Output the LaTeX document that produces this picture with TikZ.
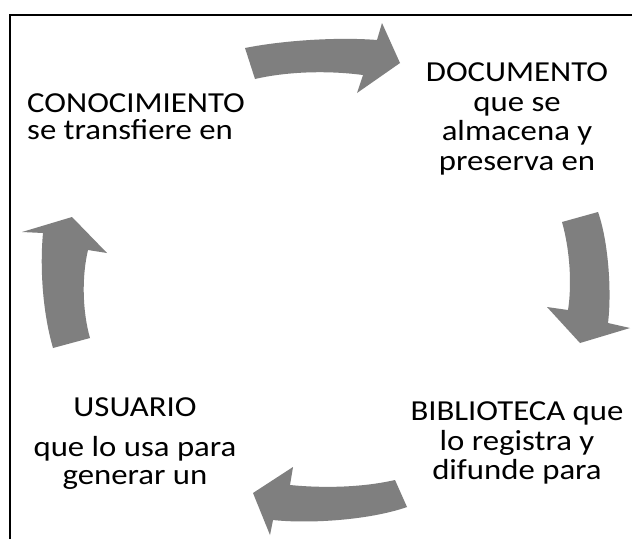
\documentclass[tikz,border=0pt]{standalone}
\usepackage{fontspec}
\setmainfont{Carlito}[FakeStretch=1.13]
\begin{document}
\begin{tikzpicture}[x=1pt,y=-1pt,
  cyclearrow/.style={fill=arrowgray,draw=none},
  label/.style={inner sep=0pt,font=\fontsize{29}{29.5}\selectfont}]
\definecolor{arrowgray}{RGB}{127,127,127}
\useasboundingbox (0,0) rectangle (632,539);
\fill[white] (0,0) rectangle (632,539);
% frame (cut off at right and bottom)
\draw[line width=2pt] (10,539) -- (10,15) -- (632,15);
% texts
\node[label,align=left,anchor=west,font=\fontsize{29}{27}\selectfont] (con) at (27,117) {CONOCIMIENTO\\se transfiere en};
\node[label,align=center] (doc) at (517,119) {DOCUMENTO\\que se\\almacena y\\preserva en};
\node[label,align=center] (bib) at (517,443) {BIBLIOTECA que\\lo registra y\\difunde para};
\node[label,align=center,font=\fontsize{29}{28}\selectfont] (usu) at (135,444) {USUARIO\\[12pt]que lo usa para\\generar un};
% arrows
\path[cyclearrow] (245,48) .. controls (285,40) and (340,37) .. (377,40) -- (382,23) -- (400,63) -- (357,93) -- (363,75) .. controls (325,70) and (285,72) .. (255,79) -- cycle;
\path[cyclearrow] (562,222) -- (598,212) .. controls (608,240) and (612,290) .. (608,323) -- (630,328) -- (580,343) -- (547,307) -- (568,310) .. controls (572,285) and (570,250) .. (562,222) -- cycle;
\path[cyclearrow] (395,480) .. controls (360,488) and (320,488) .. (290,485) -- (293,467) -- (253,493) -- (270,535) -- (273,520) .. controls (310,524) and (370,520) .. (407,507) -- cycle;
\path[cyclearrow] (53,348) -- (90,338) .. controls (82,310) and (82,275) .. (88,250) -- (107,253) -- (72,217) -- (22,232) -- (43,233) .. controls (40,265) and (42,310) .. (53,348) -- cycle;
\end{tikzpicture}
\end{document}
